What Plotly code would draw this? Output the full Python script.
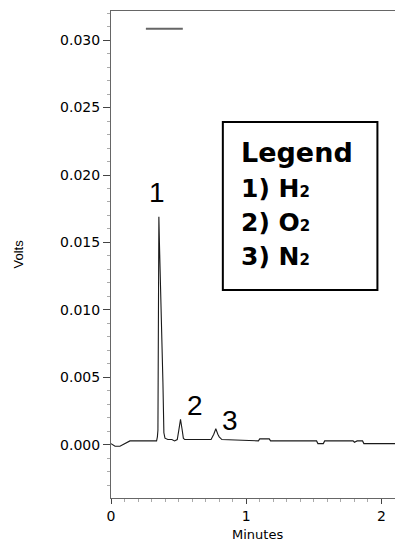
import plotly.graph_objects as go

# Chromatogram trace (minutes, volts)
time_min = [0.00, 0.03, 0.066, 0.10, 0.14, 0.337, 0.343, 0.347, 0.349, 0.354, 0.358, 0.366,
            0.374, 0.384, 0.391, 0.399, 0.42, 0.45, 0.47, 0.49, 0.50, 0.514, 0.525, 0.535,
            0.545, 0.74, 0.76, 0.775, 0.79, 0.80, 0.82, 1.09, 1.10, 1.17, 1.18, 1.52, 1.53,
            1.57, 1.58, 1.79, 1.80, 1.82, 1.86, 1.87, 2.10]
volts = [0.0001, -0.0001, -0.0001, 0.0001, 0.0003, 0.0003, 0.0006, 0.0011, 0.0098, 0.0169,
         0.0150, 0.0120, 0.0098, 0.0046, 0.0009, 0.0005, 0.0004, 0.0004, 0.0003, 0.0004,
         0.0010, 0.0019, 0.0012, 0.0005, 0.0004, 0.0004, 0.0008, 0.0012, 0.0008, 0.0006,
         0.0004, 0.0003, 0.00045, 0.00045, 0.0003, 0.0003, 0.0001, 0.0001, 0.0003, 0.0003,
         0.0002, 0.0003, 0.0003, 0.0001, 0.0001]

# Peak labels
peak_labels = ["1", "2", "3"]
peak_x = [0.34, 0.62, 0.878]
peak_y = [0.0187, 0.0029, 0.0018]

# Legend text
legend_title = "Legend"
legend_items = ["1) H", "2) O", "3) N"]
legend_sub = "2"
legend_line_y = [0.02170, 0.01900, 0.01648, 0.01395]
legend_text_x = 0.945
legend_box_x = [0.827, 1.970]
legend_box_y = [0.01148, 0.02393]

# Short sample line at top
sample_line_x = [0.258, 0.531]
sample_line_y = [0.03084, 0.03084]

x_range = [0, 2.1]
y_range = [-0.00393, 0.03215]
x_ticks = [0, 1, 2]
x_ticktext = ["0", "1", "2"]
y_ticks = [0.000, 0.005, 0.010, 0.015, 0.020, 0.025, 0.030]

fig = go.Figure()
fig.add_trace(go.Scatter(x=time_min, y=volts, mode="lines",
                         line=dict(color="#1a1a1a", width=1.1), showlegend=False,
                         hoverinfo="skip"))
fig.add_trace(go.Scatter(x=sample_line_x, y=sample_line_y, mode="lines",
                         line=dict(color="#666666", width=2), showlegend=False,
                         hoverinfo="skip"))

for lab, px, py in zip(peak_labels, peak_x, peak_y):
    fig.add_annotation(x=px, y=py, text=lab, showarrow=False, xanchor="center",
                       yanchor="middle", font=dict(family="Liberation Sans, Arial", size=28, color="black"))

fig.add_shape(type="rect", xref="x", yref="y", x0=legend_box_x[0], x1=legend_box_x[1],
              y0=legend_box_y[0], y1=legend_box_y[1], line=dict(color="black", width=2),
              fillcolor="white")

legend_texts = ["<b>" + legend_title + "</b>"] + [
    "<b>" + it + '<span style="font-size:15px">' + legend_sub + "</span></b>" for it in legend_items]
for i, (txt, ly) in enumerate(zip(legend_texts, legend_line_y)):
    fig.add_annotation(x=legend_text_x, y=ly, text=txt, showarrow=False, xanchor="left",
                       yanchor="middle",
                       font=dict(family="DejaVu Sans", size=27 if i == 0 else 25, color="black"))

fig.add_annotation(xref="paper", yref="paper", x=0, y=0.5, xshift=-93, text="Volts",
                   textangle=-90, showarrow=False, xanchor="center", yanchor="middle",
                   font=dict(family="Liberation Sans, Arial", size=13, color="black"))
fig.add_annotation(xref="paper", yref="paper", x=0.515, y=0, yshift=-36, text="Minutes",
                   showarrow=False, xanchor="center", yanchor="middle",
                   font=dict(family="DejaVu Sans", size=13, color="black"))

axis_common = dict(showline=True, linecolor="#666666", linewidth=1, mirror=True,
                   showgrid=False, zeroline=False, ticks="outside", tickcolor="#444444",
                   tickfont=dict(family="DejaVu Sans", size=14, color="black"))

fig.update_xaxes(range=x_range, tickvals=x_ticks, ticktext=x_ticktext, ticklen=5,
                 minor=dict(dtick=0.1, tick0=0, ticks="outside", ticklen=3, tickcolor="#aaaaaa"),
                 **axis_common)
fig.update_yaxes(range=y_range, tickvals=y_ticks, tickformat=".3f", ticklen=7,
                 minor=dict(dtick=0.001, tick0=0, ticks="outside", ticklen=3, tickcolor="#aaaaaa"),
                 **axis_common)

fig.update_layout(width=395, height=542, margin=dict(l=111, r=0, t=11, b=44),
                  plot_bgcolor="white", paper_bgcolor="white", showlegend=False)

fig.write_html("out.html", config={"displayModeBar": False},
               post_script="document.body.style.margin='0';")
